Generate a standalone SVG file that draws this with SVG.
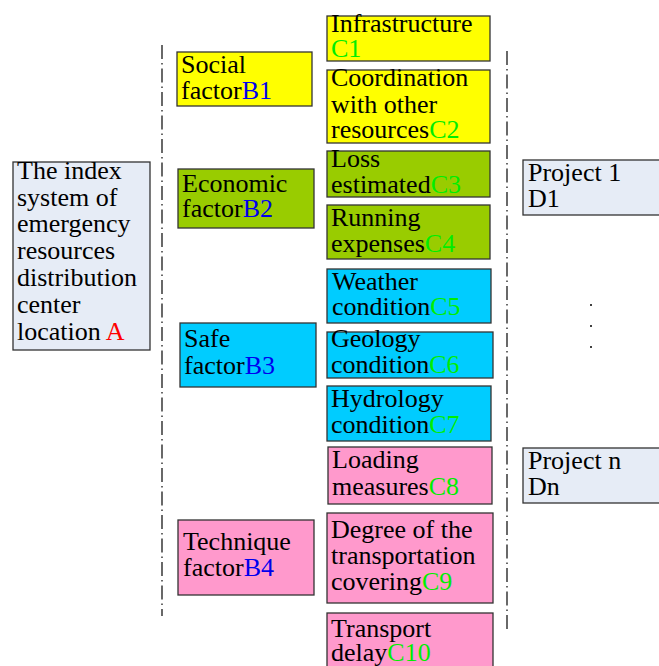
<svg xmlns="http://www.w3.org/2000/svg" width="659" height="666" viewBox="0 0 659 666">
<style>
.box{stroke:#333;stroke-width:1.3}
.a{fill:#e6ecf6}
.y{fill:#ffff00}
.g{fill:#99cc00}
.c{fill:#00ccff}
.p{fill:#ff99cc}
.gr{fill:#00ee00}
.bl{fill:#0000ee}
.rd{fill:#ff0000}
.sep{stroke:#444;stroke-width:1.6;fill:none;stroke-dasharray:14 4 1.5 4}
</style>
<rect width="659" height="666" fill="#fff"/>
<g id="connectors">
<line class="sep" x1="162" y1="45" x2="162" y2="616"/>
<line class="sep" x1="507" y1="51" x2="507" y2="632"/>
</g>
<g id="A">
<rect class="box a" x="13" y="162" width="137" height="188"/>
<text font-family="Liberation Serif" font-size="26" fill="#000"><tspan x="17" y="179">The index</tspan><tspan x="17" y="206">system of</tspan><tspan x="17" y="232">emergency</tspan><tspan x="17" y="259">resources</tspan><tspan x="17" y="286">distribution</tspan><tspan x="17" y="313">center</tspan><tspan x="17" y="340">location <tspan class="rd">A</tspan></tspan></text>
</g>
<g id="B1">
<rect class="box y" x="177" y="52" width="135" height="54"/>
<text font-family="Liberation Serif" font-size="26" fill="#000"><tspan x="181" y="73">Social</tspan><tspan x="181" y="99">factor<tspan class="bl">B1</tspan></tspan></text>
</g>
<g id="B2">
<rect class="box g" x="178" y="169" width="136" height="59"/>
<text font-family="Liberation Serif" font-size="26" fill="#000"><tspan x="182" y="192">Economic</tspan><tspan x="182" y="217">factor<tspan class="bl">B2</tspan></tspan></text>
</g>
<g id="B3">
<rect class="box c" x="180" y="323" width="136" height="64"/>
<text font-family="Liberation Serif" font-size="26" fill="#000"><tspan x="184" y="347">Safe</tspan><tspan x="184" y="374">factor<tspan class="bl">B3</tspan></tspan></text>
</g>
<g id="B4">
<rect class="box p" x="178" y="520" width="136" height="75"/>
<text font-family="Liberation Serif" font-size="26" fill="#000"><tspan x="183" y="550">Technique</tspan><tspan x="183" y="576">factor<tspan class="bl">B4</tspan></tspan></text>
</g>
<g id="C1">
<rect class="box y" x="327" y="16" width="163" height="45"/>
<text font-family="Liberation Serif" font-size="26" fill="#000"><tspan x="331" y="32">Infrastructure</tspan><tspan x="331" y="57" class="gr">C1</tspan></text>
</g>
<g id="C2">
<rect class="box y" x="327" y="70" width="163" height="73"/>
<text font-family="Liberation Serif" font-size="26" fill="#000"><tspan x="331" y="86">Coordination</tspan><tspan x="331" y="113">with other</tspan><tspan x="331" y="138">resources<tspan class="gr">C2</tspan></tspan></text>
</g>
<g id="C3">
<rect class="box g" x="327" y="151" width="163" height="46"/>
<text font-family="Liberation Serif" font-size="26" fill="#000"><tspan x="331" y="167">Loss</tspan><tspan x="331" y="193">estimated<tspan class="gr">C3</tspan></tspan></text>
</g>
<g id="C4">
<rect class="box g" x="327" y="205" width="163" height="54"/>
<text font-family="Liberation Serif" font-size="26" fill="#000"><tspan x="331" y="226">Running</tspan><tspan x="331" y="252">expenses<tspan class="gr">C4</tspan></tspan></text>
</g>
<g id="C5">
<rect class="box c" x="327" y="269" width="164" height="54"/>
<text font-family="Liberation Serif" font-size="26" fill="#000"><tspan x="332" y="290">Weather</tspan><tspan x="332" y="315">condition<tspan class="gr">C5</tspan></tspan></text>
</g>
<g id="C6">
<rect class="box c" x="327" y="332" width="166" height="46"/>
<text font-family="Liberation Serif" font-size="26" fill="#000"><tspan x="331" y="347">Geology</tspan><tspan x="331" y="373">condition<tspan class="gr">C6</tspan></tspan></text>
</g>
<g id="C7">
<rect class="box c" x="327" y="386" width="164" height="55"/>
<text font-family="Liberation Serif" font-size="26" fill="#000"><tspan x="331" y="407">Hydrology</tspan><tspan x="331" y="433">condition<tspan class="gr">C7</tspan></tspan></text>
</g>
<g id="C8">
<rect class="box p" x="328" y="447" width="164" height="57"/>
<text font-family="Liberation Serif" font-size="26" fill="#000"><tspan x="332" y="468">Loading</tspan><tspan x="332" y="495">measures<tspan class="gr">C8</tspan></tspan></text>
</g>
<g id="C9">
<rect class="box p" x="327" y="513" width="166" height="90"/>
<text font-family="Liberation Serif" font-size="26" fill="#000"><tspan x="331" y="538">Degree of the</tspan><tspan x="331" y="564">transportation</tspan><tspan x="331" y="590">covering<tspan class="gr">C9</tspan></tspan></text>
</g>
<g id="C10">
<rect class="box p" x="327" y="613" width="166" height="60"/>
<text font-family="Liberation Serif" font-size="26" fill="#000"><tspan x="331" y="637">Transport</tspan><tspan x="331" y="661">delay<tspan class="gr">C10</tspan></tspan></text>
</g>
<g id="D1">
<rect class="box a" x="523" y="160" width="140" height="55"/>
<text font-family="Liberation Serif" font-size="26" fill="#000"><tspan x="528" y="181">Project 1</tspan><tspan x="528" y="207">D1</tspan></text>
</g>
<g id="Dn">
<rect class="box a" x="523" y="448" width="140" height="55"/>
<text font-family="Liberation Serif" font-size="26" fill="#000"><tspan x="528" y="469">Project n</tspan><tspan x="528" y="495">Dn</tspan></text>
</g>
<g id="dots" fill="#000">
<circle cx="591" cy="305" r="1"/>
<circle cx="591" cy="326" r="1"/>
<circle cx="591" cy="347" r="1"/>
</g>
</svg>
